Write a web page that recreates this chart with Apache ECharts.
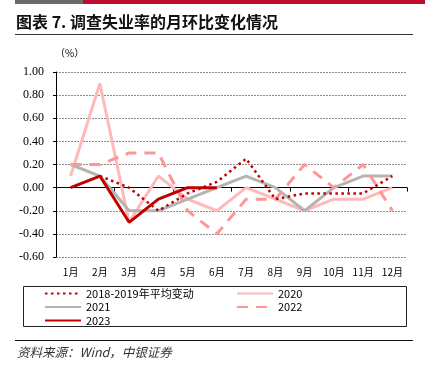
<!DOCTYPE html>
<html><head><meta charset="utf-8">
<script src="https://cdn.jsdelivr.net/npm/echarts@6/dist/echarts.min.js"></script>
<style>html,body{margin:0;padding:0;background:#fff}#c{width:425px;height:371px}</style>
</head><body><div id="c"></div>
<script>
const months = ['1月','2月','3月','4月','5月','6月','7月','8月','9月','10月','11月','12月'];
const avg1819 = [null, 0.10, 0.00, -0.20, -0.05, 0.05, 0.25, -0.10, -0.05, -0.05, -0.05, 0.10];
const y2020 = [0.10, 0.90, -0.30, 0.10, -0.10, -0.20, 0.00, -0.10, -0.20, -0.10, -0.10, 0.00];
const y2021 = [0.20, 0.10, -0.20, -0.20, -0.10, 0.00, 0.10, 0.00, -0.20, 0.00, 0.10, 0.10];
const y2022 = [0.20, 0.20, 0.30, 0.30, -0.20, -0.40, -0.10, -0.10, 0.20, 0.00, 0.20, -0.20];
const y2023 = [0.00, 0.10, -0.30, -0.10, 0.00, 0.00];
const names = ['2018-2019年平均变动', '2020', '2021', '2022', '2023'];
const titleText = '图表 7. 调查失业率的月环比变化情况';
const sourceText = '资料来源：Wind，中银证券';

const CJK = '"Noto Sans CJK SC", sans-serif';
const chart = echarts.init(document.getElementById('c'), null, {renderer: 'canvas'});
const legendText = {fontSize: 11, fontFamily: CJK, color: '#000'};
chart.setOption({
  animation: false,
  backgroundColor: '#fff',
  grid: {left: 56, right: 18, top: 72, bottom: 114},
  graphic: [
    {type: 'rect', shape: {x: 15, y: 0, width: 68, height: 4}, style: {fill: '#6b6b6b'}},
    {type: 'rect', shape: {x: 83, y: 0, width: 342, height: 4}, style: {fill: '#BE0A2E'}},
    {type: 'text', x: 16, y: 22, style: {text: titleText, font: 'bold 16px "Noto Sans CJK SC"', fill: '#111', verticalAlign: 'middle'}},
    {type: 'line', shape: {x1: 15, y1: 34.5, x2: 413, y2: 34.5}, style: {stroke: '#333', lineWidth: 1}},
    {type: 'rect', shape: {x: 23.5, y: 286.5, width: 383, height: 40}, style: {fill: 'none', stroke: '#222', lineWidth: 1}},
    {type: 'line', shape: {x1: 15, y1: 340.5, x2: 413, y2: 340.5}, style: {stroke: '#111', lineWidth: 1}},
    {type: 'text', x: 17, y: 352, style: {text: sourceText, font: 'italic 12.5px "Noto Sans CJK SC"', fill: '#333', verticalAlign: 'middle'}}
  ],
  legend: [
    {orient: 'vertical', left: 44, top: 288, padding: 0, itemWidth: 36, itemHeight: 10, itemGap: 2.5,
     itemStyle: {opacity: 0},
     data: [names[0], names[2], names[4]], textStyle: legendText},
    {orient: 'vertical', left: 236, top: 288, padding: 0, itemWidth: 36, itemHeight: 10, itemGap: 2.5,
     itemStyle: {opacity: 0},
     data: [names[1], names[3]], textStyle: legendText}
  ],
  xAxis: [
    {type: 'category', data: months, boundaryGap: true,
     axisLine: {onZero: true, lineStyle: {color: '#000', width: 1}},
     axisTick: {show: true, length: 4, lineStyle: {color: '#000'}},
     axisLabel: {show: false}, splitLine: {show: false}},
    {type: 'category', data: months, position: 'bottom', boundaryGap: true,
     axisLine: {show: false, onZero: false}, axisTick: {show: false},
     axisLabel: {show: true, margin: 10, fontSize: 10, fontFamily: CJK, color: '#000'}, splitLine: {show: false}}
  ],
  yAxis: {
    type: 'value', min: -0.6, max: 1.0, interval: 0.2,
    name: '（%）', nameGap: 14,
    nameTextStyle: {fontSize: 10, fontFamily: CJK, color: '#000', align: 'left', padding: [0, 0, 0, -1]},
    axisLine: {show: true, lineStyle: {color: '#000', width: 1}},
    axisTick: {show: true, length: 3, lineStyle: {color: '#000'}},
    axisLabel: {margin: 12, fontSize: 12, fontFamily: '"Liberation Serif", serif', color: '#000',
      formatter: v => v.toFixed(2)},
    splitLine: {show: true, lineStyle: {color: '#8a8a8a', width: 1, type: [2, 1]}}
  },
  series: [
    {name: names[0], type: 'line', data: avg1819, symbol: 'none', z: 6,
     lineStyle: {color: '#C00000', width: 2.5, type: [2.5, 3.5]}, itemStyle: {color: '#C00000'}},
    {name: names[1], type: 'line', data: y2020, symbol: 'none', z: 2,
     lineStyle: {color: '#FFB9B9', width: 3}, itemStyle: {color: '#FFB9B9'}},
    {name: names[2], type: 'line', data: y2021, symbol: 'none', z: 3,
     lineStyle: {color: '#B4B4B4', width: 3}, itemStyle: {color: '#B4B4B4'}},
    {name: names[3], type: 'line', data: y2022, symbol: 'none', z: 4,
     lineStyle: {color: '#FF9696', width: 3, type: [11, 8]}, itemStyle: {color: '#FF9696'}},
    {name: names[4], type: 'line', data: y2023, symbol: 'none', z: 7,
     lineStyle: {color: '#C00000', width: 3}, itemStyle: {color: '#C00000'}}
  ]
});
</script></body></html>
